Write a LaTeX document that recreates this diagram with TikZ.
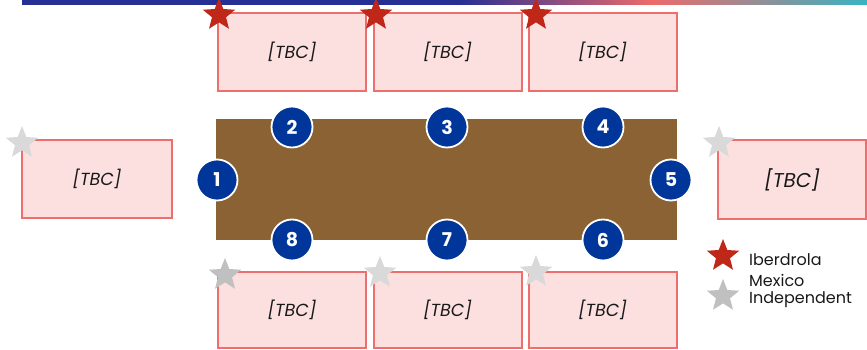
\documentclass[tikz,border=0pt]{standalone}
\usepackage{fontspec}
\setmainfont{Poppins}
\usetikzlibrary{shapes.geometric}
\definecolor{barblue}{HTML}{262F94}
\definecolor{barpink}{HTML}{EE6A6A}
\definecolor{barteal}{HTML}{38B3C2}
\definecolor{boxfill}{HTML}{FCE0E0}
\definecolor{boxline}{HTML}{EE6E6E}
\definecolor{tablebrown}{HTML}{8B6234}
\definecolor{numblue}{HTML}{00369A}
\definecolor{starred}{HTML}{BF2718}
\definecolor{greylight}{HTML}{D9D9D9}
\definecolor{greymid}{HTML}{C0C0C0}
\begin{document}
\begin{tikzpicture}[x=1pt,y=-1pt,
  tbc/.style={draw=boxline, fill=boxfill, line width=2pt, minimum width=148pt, minimum height=78pt, inner sep=0pt, font=\itshape\fontsize{17.5}{19}\selectfont, text=black!90},
  num/.style={circle, fill=numblue, draw=white, line width=1.8pt, minimum size=41pt, inner sep=0pt, text=white, font=\bfseries\fontsize{19}{20}\selectfont},
  mystar/.style={star, star points=5, star point ratio=2.3, minimum size=34pt, inner sep=0pt, draw=none},
  legtext/.style={anchor=west, align=left, inner sep=0pt, font=\fontsize{16}{17}\selectfont, text=black!90}
]
\useasboundingbox (0,0) rectangle (867,350);
% top bar
\fill[barblue] (22,0) rectangle (459,5);
\shade[left color=barblue, right color=barpink, shading angle=90] (459,0) rectangle (652,5);
\shade[left color=barpink, right color=barteal] (652,0) rectangle (867,5);
% table
\node[fill=tablebrown, minimum width=461pt, minimum height=121pt, inner sep=0pt] (table) at (446.5,179.5) {};
% boxes
\node[tbc] (t1) at (292,52) {[TBC]};
\node[tbc] (t2) at (447.5,52) {[TBC]};
\node[tbc] (t3) at (602.5,52) {[TBC]};
\node[tbc, minimum width=150pt] (l1) at (97,179) {[TBC]};
\node[tbc, font=\itshape\fontsize{20}{22}\selectfont] (r1) at (792,179.5) {[TBC]};
\node[tbc, minimum height=76pt] (b1) at (292,310) {[TBC]};
\node[tbc, minimum height=76pt] (b2) at (447.5,310) {[TBC]};
\node[tbc, minimum height=76pt] (b3) at (602.5,310) {[TBC]};
% stars
\node[mystar, fill=starred] (s1) at (219,15) {};
\node[mystar, fill=starred] (s2) at (376,15) {};
\node[mystar, fill=starred] (s3) at (536,15) {};
\node[mystar, fill=greylight] (s4) at (22,143) {};
\node[mystar, fill=greylight] (s5) at (719,143) {};
\node[mystar, fill=greymid] (s6) at (225,275) {};
\node[mystar, fill=greylight] (s7) at (380,273) {};
\node[mystar, fill=greylight] (s8) at (536,272) {};
% seat numbers
\node[num] (n1) at (217,180) {1};
\node[num] (n2) at (292,127) {2};
\node[num] (n3) at (447,127) {3};
\node[num] (n4) at (603,127) {4};
\node[num] (n5) at (671,180) {5};
\node[num] (n6) at (603,240) {6};
\node[num] (n7) at (447,240) {7};
\node[num] (n8) at (292,240) {8};
% legend
\node[mystar, fill=starred] (ls1) at (723,256) {};
\node[mystar, fill=greymid] (ls2) at (723,296) {};
\node[legtext] (lt1) at (749,260) {Iberdrola};
\node[legtext] (lt2) at (749,291) {Mexico\\Independent};
\end{tikzpicture}
\end{document}
